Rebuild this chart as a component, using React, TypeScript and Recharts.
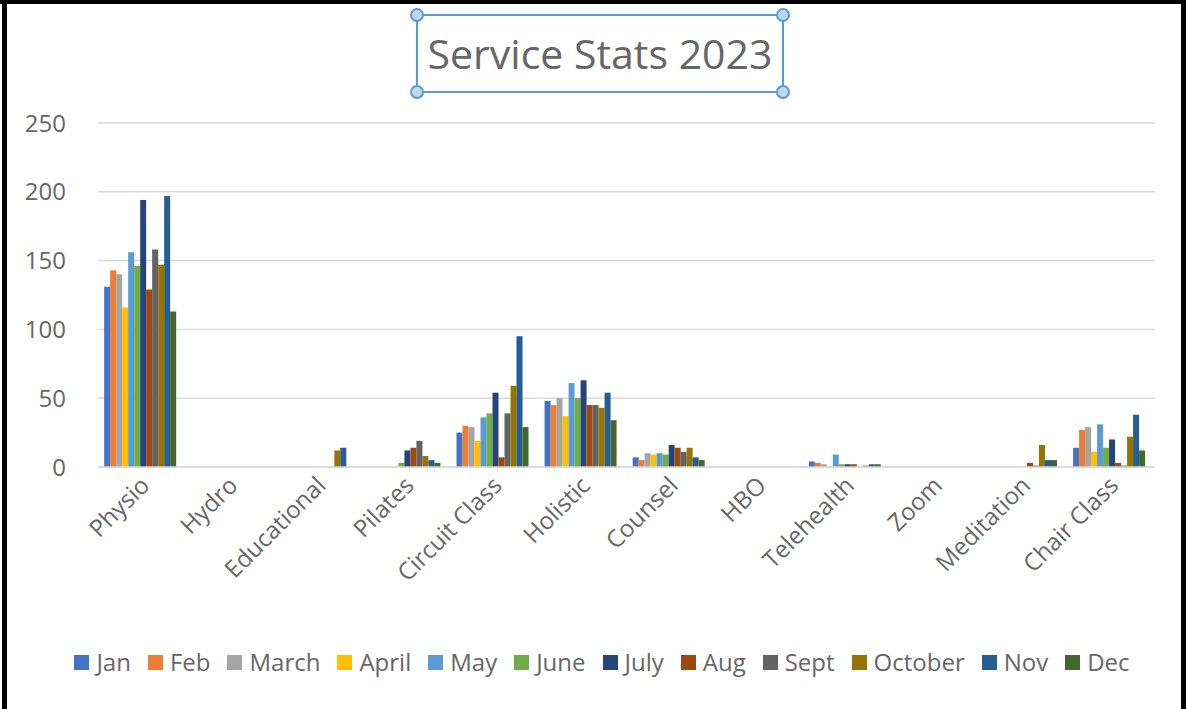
import { Bar, BarChart, CartesianGrid, Legend, XAxis, YAxis } from "recharts";

const categories = [
  "Physio",
  "Hydro",
  "Educational",
  "Pilates",
  "Circuit Class",
  "Holistic",
  "Counsel",
  "HBO",
  "Telehealth",
  "Zoom",
  "Meditation",
  "Chair Class",
];

const months = ["Jan", "Feb", "March", "April", "May", "June", "July", "Aug", "Sept", "October", "Nov", "Dec"];

const jan = [131, 0, 0, 0, 25, 48, 7, 0, 4, 0, 0, 14];
const feb = [143, 0, 0, 0, 30, 45, 5, 0, 3, 0, 0, 27];
const march = [140, 0, 0, 0, 29, 50, 10, 0, 2, 0, 0, 29];
const april = [116, 0, 0, 0, 19, 37, 9, 0, 0, 0, 0, 11];
const may = [156, 0, 0, 0, 36, 61, 10, 0, 9, 0, 0, 31];
const june = [146, 0, 0, 3, 39, 50, 9, 0, 2, 0, 0, 14];
const july = [194, 0, 0, 12, 54, 63, 16, 0, 2, 0, 0, 20];
const aug = [129, 0, 0, 14, 7, 45, 14, 0, 2, 0, 3, 3];
const sept = [158, 0, 0, 19, 39, 45, 11, 0, 0, 0, 1, 1];
const october = [147, 0, 12, 8, 59, 43, 14, 0, 1, 0, 16, 22];
const nov = [197, 0, 14, 5, 95, 54, 7, 0, 2, 0, 5, 38];
const dec = [113, 0, 0, 3, 29, 34, 5, 0, 2, 0, 5, 12];

const series = [jan, feb, march, april, may, june, july, aug, sept, october, nov, dec];

const colors = [
  "#4472C4",
  "#ED7D31",
  "#A5A5A5",
  "#FFC000",
  "#5B9BD5",
  "#70AD47",
  "#264478",
  "#9E480E",
  "#636363",
  "#997300",
  "#255E91",
  "#43682B",
];

const yTicks = [0, 50, 100, 150, 200, 250];

const data = categories.map((name, i) => {
  const row: Record<string, string | number> = { name };
  months.forEach((m, j) => {
    row[m] = series[j][i];
  });
  return row;
});

const FONT = "'Open Sans', sans-serif";
const TEXT = "#666666";

const AngledTick = ({ x, y, payload }: any) => (
  <text
    x={x + 9}
    y={y + 12}
    transform={`rotate(-45 ${x + 9} ${y + 12})`}
    textAnchor="end"
    fill={TEXT}
    fontSize={24}
    fontFamily={FONT}
  >
    {payload.value}
  </text>
);

const LegendRow = () => (
  <div
    style={{
      display: "flex",
      justifyContent: "center",
      alignItems: "center",
      paddingTop: 20,
      paddingLeft: 35,
      fontFamily: FONT,
      fontSize: 24,
      color: TEXT,
      lineHeight: "26px",
    }}
  >
    {months.map((m, i) => (
      <span key={m} style={{ display: "flex", alignItems: "center", marginRight: 17 }}>
        <span style={{ width: 15, height: 15, background: colors[i], marginRight: 7 }} />
        {m}
      </span>
    ))}
  </div>
);

export default function App() {
  return (
    <div style={{ position: "absolute", left: 0, top: 0, width: 1186, height: 709, background: "#fff" }}>
      <BarChart
        width={1186}
        height={709}
        data={data}
        margin={{ top: 123, right: 31, left: 0, bottom: 0 }}
        barGap={0}
        barCategoryGap="7%"
      >
        <CartesianGrid vertical={false} stroke="#D9D9D9" strokeWidth={1.5} />
        <XAxis
          dataKey="name"
          interval={0}
          tickLine={false}
          axisLine={{ stroke: "#D9D9D9", strokeWidth: 1.5 }}
          height={162}
          tick={<AngledTick />}
        />
        <YAxis
          width={98}
          domain={[0, 250]}
          ticks={yTicks}
          axisLine={false}
          tickLine={false}
          tickMargin={26}
          tick={{ fill: TEXT, fontSize: 24, fontFamily: FONT }}
        />
        <Legend
          verticalAlign="bottom"
          height={80}
          wrapperStyle={{ left: 0, width: 1186 }}
          content={<LegendRow />}
        />
        {months.map((m, i) => (
          <Bar key={m} dataKey={m} fill={colors[i]} isAnimationActive={false} />
        ))}
      </BarChart>
      <svg
        width={1186}
        height={709}
        style={{ position: "absolute", left: 0, top: 0, pointerEvents: "none" }}
      >
        <rect x={417} y={15} width={366} height={77} fill="none" stroke="#5B9BD5" strokeWidth={2} />
        <text x={600} y={69} textAnchor="middle" fill={TEXT} fontSize={41} fontFamily={FONT}>
          Service Stats 2023
        </text>
        {[
          [417, 15],
          [783, 15],
          [417, 92],
          [783, 92],
        ].map(([cx, cy]) => (
          <circle key={`${cx}-${cy}`} cx={cx} cy={cy} r={6} fill="#BDD7EE" stroke="#5B9BD5" strokeWidth={2} />
        ))}
        <rect x={0} y={0} width={1186} height={4} fill="#000" />
        <rect x={2} y={0} width={5} height={709} fill="#000" />
        <rect x={1181} y={0} width={5} height={709} fill="#000" />
      </svg>
    </div>
  );
}
